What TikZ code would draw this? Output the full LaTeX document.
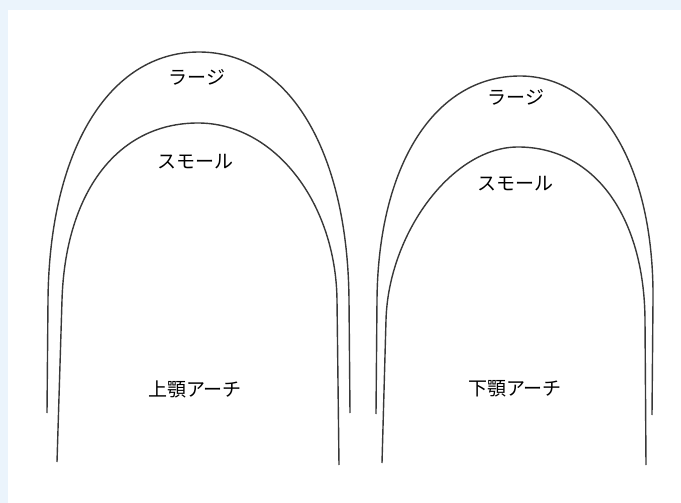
\documentclass[tikz,border=0pt]{standalone}
\usepackage{fontspec}
\usepackage{tikz}
\usetikzlibrary{positioning}
\newfontfamily\jpfont{Noto Sans CJK JP}
\definecolor{bgblue}{RGB}{235,244,252}
\tikzset{
	arch/.style={draw=black!78,line width=1.4pt},
	archlabel/.style={font=\jpfont\fontsize{19}{22}\selectfont,inner sep=0pt}
}
\begin{document}
\begin{tikzpicture}[x=1pt,y=-1pt]
				\fill[bgblue] (0,0) rectangle (681,503);
				\fill[white] (8,10) rectangle (681,503);
				% left end / left cap / top / right cap / right end / cap start / bulge
				\foreach \xa/\ya/\xb/\xc/\yt/\xd/\xe/\ye/\yc/\ka/\kb in {
					47/413/48/199/52/349/350/413/300/0.6/0.6,
					57/462/62/198/123/337/339/465/300/0.6/0.55,
					376/414/377/520/76/653/652/415/300/0.6/0.6,
					382/463/386/518/147/645/646/465/320/0.5/0.6}
				{
					\draw[arch] (\xa,\ya) -- (\xb,\yc)
						.. controls ({\xb+(\xb-\xa)*\ka*(\yc-\yt)/(\ya-\yc)},{\yc-\ka*(\yc-\yt)}) and ({\xc-\ka*(\xc-\xb)},\yt) .. (\xc,\yt)
						.. controls ({\xc+\kb*(\xd-\xc)},\yt) and ({\xd+(\xd-\xe)*\kb*(\yc-\yt)/(\ye-\yc)},{\yc-\kb*(\yc-\yt)}) .. (\xd,\yc)
						-- (\xe,\ye);
				}
				\node[archlabel] (upperlarge) at (197,77) {ラージ};
				\node[archlabel] (uppersmall) at (195,162) {スモール};
				\node[archlabel] (upper) at (195,389) {上顎アーチ};
				\node[archlabel] (lowerlarge) at (516,97) {ラージ};
				\node[archlabel] (lowersmall) at (515,184) {スモール};
				\node[archlabel] (lower) at (515,389) {下顎アーチ};
\end{tikzpicture}
\end{document}
